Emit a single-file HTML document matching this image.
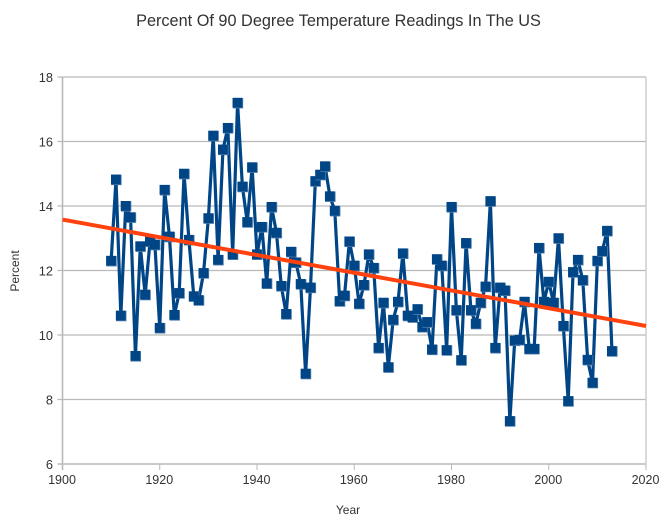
<!DOCTYPE html>
<html><head><meta charset="utf-8"><title>Percent Of 90 Degree Temperature Readings In The US</title>
<style>html,body{margin:0;padding:0;background:#fff;width:671px;height:522px;overflow:hidden}svg{display:block}text{font-family:"Liberation Sans",sans-serif;fill:#333}</style></head>
<body>
<svg id="chart" width="671" height="522" viewBox="0 0 671 522">
<text id="t" x="338.5" y="26" font-size="16.3" text-anchor="middle">Percent Of 90 Degree Temperature Readings In The US</text>
<text x="348" y="514" font-size="12" text-anchor="middle">Year</text>
<text transform="translate(19,271) rotate(-90)" font-size="12" text-anchor="middle">Percent</text>
</svg>
<script>
const xTickLabels = [1900, 1920, 1940, 1960, 1980, 2000, 2020];
const yTickLabels = [6, 8, 10, 12, 14, 16, 18];
const startYear = 1910;
const percentValues = [12.3,14.82,10.6,14.0,13.65,9.35,12.75,11.25,12.9,12.8,10.22,14.5,13.05,10.62,11.3,15.0,12.95,11.2,11.08,11.92,13.62,16.18,12.33,15.75,16.42,12.5,17.2,14.6,13.5,15.2,12.5,13.35,11.6,13.97,13.17,11.52,10.65,12.58,12.25,11.58,8.8,11.47,14.77,14.97,15.23,14.3,13.85,11.05,11.22,12.9,12.15,10.97,11.55,12.5,12.08,9.6,11.0,9.0,10.47,11.03,12.53,10.6,10.55,10.8,10.25,10.4,9.55,12.35,12.15,9.53,13.97,10.77,9.22,12.85,10.77,10.35,11.0,11.5,14.15,9.6,11.47,11.38,7.33,9.83,9.85,11.03,9.57,9.57,12.7,11.03,11.65,11.0,13.0,10.28,7.95,11.95,12.33,11.7,9.23,8.52,12.3,12.6,13.23,9.5];
const trendYears = [1900, 2020];
const trendValues = [13.58, 10.28];

const svg = document.getElementById('chart');
const NS = 'http://www.w3.org/2000/svg';
const L = 62.5, R = 646, T = 77, B = 464;
const x = v => L + (v - 1900) * (R - L) / 120;
const y = v => B - (v - 6) * (B - T) / 12;
function mk(tag, attrs, parent) {
  const el = document.createElementNS(NS, tag);
  for (const k in attrs) el.setAttribute(k, attrs[k]);
  (parent || svg).appendChild(el);
  return el;
}
yTickLabels.forEach(v => {
  const g = mk('line', {x1: L - 5, x2: R, y1: y(v), y2: y(v), stroke: '#b9b9b9', 'stroke-width': v === 6 ? 1.6 : 1.2});
  
  
  const t = mk('text', {x: 53, y: y(v) + 5, 'font-size': 12.8, 'text-anchor': 'end'});
  t.textContent = v;
  
  
});
xTickLabels.forEach(v => {
  const isEdge = v === 1900 || v === 2020;
  const g = mk('line', {x1: x(v), x2: x(v), y1: isEdge ? T : B, y2: B + 6, stroke: v === 2020 ? '#d0d0d0' : '#b9b9b9', 'stroke-width': isEdge ? 1.6 : 1});
  
  
  const t = mk('text', {x: x(v) - 0.5, y: 484, 'font-size': 12.5, 'text-anchor': 'middle'});
  t.textContent = v;
  
  
});
const pts = percentValues.map((v, i) => x(startYear + i).toFixed(2) + ',' + y(v).toFixed(2)).join(' ');
const series = mk('polyline', {points: pts, fill: 'none', stroke: '#004586', 'stroke-width': 3.2, 'stroke-linejoin': 'round'});


percentValues.forEach((v, i) => {
  const px = x(startYear + i), py = y(v);
  const shadow = mk('rect', {x: px - 4.8, y: py - 4.8, width: 10.4, height: 10.4, fill: '#4f7cab'});
  
  
  const m = mk('rect', {x: px - 5, y: py - 5, width: 9.8, height: 9.8, fill: '#004586'});
  
  
});
const trend = mk('line', {x1: x(trendYears[0]), y1: y(trendValues[0]), x2: x(trendYears[1]), y2: y(trendValues[1]), stroke: '#ff420e', 'stroke-width': 4});


</script>
</body></html>
